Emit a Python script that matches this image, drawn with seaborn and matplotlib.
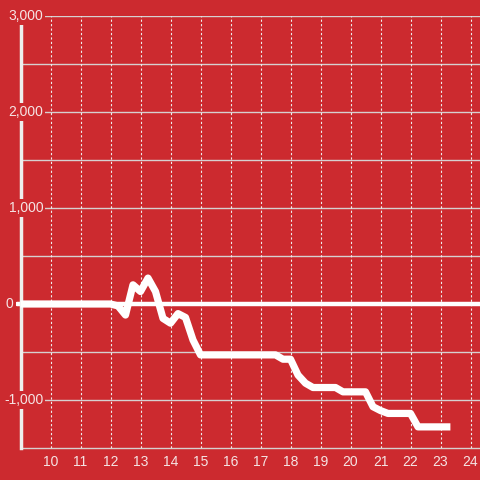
import matplotlib
matplotlib.use("Agg")
import matplotlib.pyplot as plt
import pandas as pd
import seaborn as sns

# ---------------------------------------------------------------- data
hours = [9.0, 9.25, 9.5, 9.75, 10.0, 10.25, 10.5, 10.75, 11.0, 11.25, 11.5, 11.75,
         12.0, 12.25, 12.5, 12.75, 13.0, 13.25, 13.5, 13.75, 14.0, 14.25, 14.5, 14.75,
         15.0, 15.25, 15.5, 15.75, 16.0, 16.25, 16.5, 16.75, 17.0, 17.25, 17.5, 17.75,
         18.0, 18.25, 18.5, 18.75, 19.0, 19.25, 19.5, 19.75, 20.0, 20.25, 20.5, 20.75,
         21.0, 21.25, 21.5, 21.75, 22.0, 22.25, 22.5, 22.75, 23.0, 23.33]
values = [0, 0, 0, 0, 0, 0, 0, 0, 0, 0, 0, 0,
          0, -20, -115, 200, 130, 270, 130, -150, -200, -100, -140, -375,
          -530, -530, -530, -530, -530, -530, -530, -530, -530, -530, -530, -575,
          -575, -740, -825, -870, -870, -870, -870, -915, -915, -915, -915, -1070,
          -1110, -1140, -1140, -1140, -1140, -1280, -1280, -1280, -1280, -1280]

x_ticks = list(range(10, 25))
y_ticks = [-1000, 0, 1000, 2000, 3000]
y_labels = ["-1,000", "0", "1,000", "2,000", "3,000"]

BG = "#cc2a2f"
TXT = "#f5e4e4"
GRID = "#d6d0d0"

sns.set_theme(style="white")
plt.rcParams["font.family"] = ["Liberation Sans", "DejaVu Sans"]

fig = plt.figure(figsize=(4.8, 4.8), dpi=100, facecolor=BG)
ax = fig.add_axes([20.5 / 480, 32 / 480, (480 - 20.5) / 480, 432 / 480])
ax.set_facecolor(BG)

df = pd.DataFrame({"hour": hours, "value": values})
sns.lineplot(data=df, x="hour", y="value", ax=ax, color="white", linewidth=5.2,
             solid_capstyle="butt", clip_on=False, zorder=5)

x_left = 9.0
x_right = x_left + (480 - 20.5) / 30
ax.set_xlim(x_left, x_right)
ax.set_ylim(-1500, 3000)

# horizontal grid every 500, dotted verticals every hour
for yv in range(-1000, 3001, 500):
    ax.axhline(yv, color=GRID, lw=1, zorder=1)
for xv in x_ticks:
    ax.axvline(xv, color="#eeeeee", lw=0.8, ls=(0, (2, 2)), zorder=1)
ax.plot([x_left - 0.12, x_right], [0, 0], color="white", lw=3.2, zorder=4, clip_on=False)

for side in ["top", "right"]:
    ax.spines[side].set_visible(False)
ax.spines["left"].set_color("#eeeeee")
ax.spines["left"].set_linewidth(2.5)
ax.spines["left"].set_zorder(4.5)
ax.spines["bottom"].set_color(GRID)
ax.spines["bottom"].set_linewidth(1)

ax.set_xticks(x_ticks)
ax.set_xticklabels([str(t) for t in x_ticks])
ax.tick_params(axis="x", length=0, pad=5, colors=TXT, labelsize=10)
ax.set_yticks([])
ax.set_xlabel("")
ax.set_ylabel("")

# y labels drawn over the axis with a background box
for yv, lab in zip(y_ticks, y_labels):
    off = -5 if lab == "0" else 16.5
    ax.annotate(lab, xy=(0, yv), xycoords=ax.get_yaxis_transform(),
                xytext=(off, 0), textcoords="offset points",
                ha="right", va="center", color=TXT, fontsize=10, zorder=6,
                annotation_clip=False,
                bbox=dict(boxstyle="square,pad=0.15", fc=BG, ec="none"))

fig.savefig("out.png", dpi=100, facecolor=BG)
